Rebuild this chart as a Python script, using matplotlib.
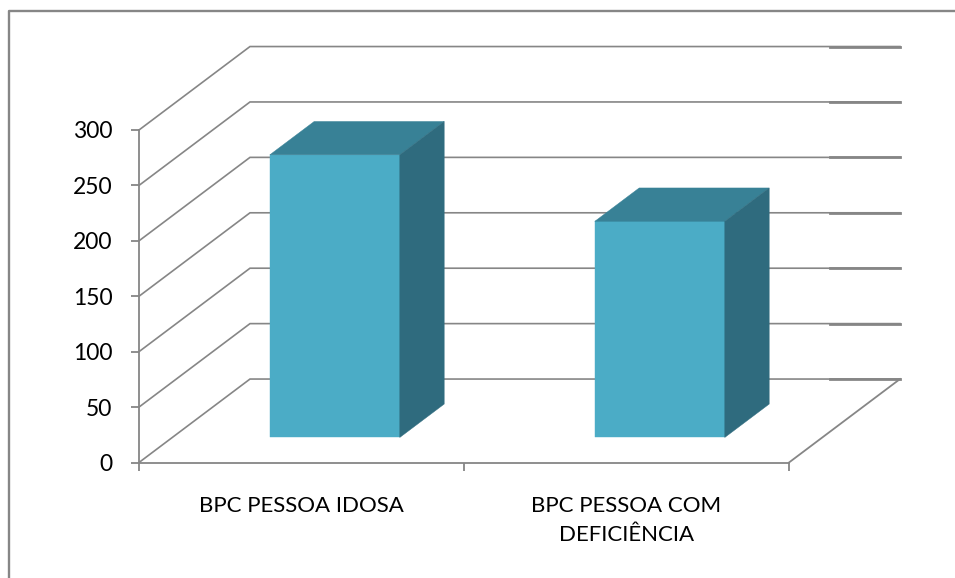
#!/usr/env/python

import matplotlib as mpl
mpl.use('Agg')
from matplotlib import pyplot as plt
from matplotlib.lines import Line2D
from matplotlib.patches import Polygon

## Chart data
categories = ['BPC PESSOA IDOSA', 'BPC PESSOA COM\nDEFICIÊNCIA']
values = [255, 195]
value_ticks = [0, 50, 100, 150, 200, 250, 300]

## Oblique depth of the floor, in data units
DEPTH_X = 0.3415
DEPTH_Y = 75.3
BAR_WIDTH = 0.4
BAR_FRONT = 0.3
BAR_BACK = 0.7

GREY = '#868686'
FRONT = '#4BACC6'
TOP = '#388196'
SIDE = '#2F6B7E'

W, H = 955, 578


def project(x, y, depth):
    return (x + depth*DEPTH_X, y + depth*DEPTH_Y)


def main():
    plt.rcParams['font.family'] = ['Lato', 'DejaVu Sans']
    fig = plt.figure(figsize=(W/100, H/100), dpi=100)
    ax = fig.add_axes([139/W, 1 - 462.5/H, 650/W, 332.5/H])
    ax.set_xlim(0, 2)
    ax.set_ylim(0, 300)
    ax.patch.set_alpha(0)

    ## Outer frame only shows on the left and the top
    fig.add_artist(Line2D([8.5/W, 8.5/W, 1], [0, 1 - 10.5/H, 1 - 10.5/H],
                          color=GREY, lw=1.7))

    for s in ['top', 'right']:
        ax.spines[s].set_visible(False)
    for s in ['left', 'bottom']:
        ax.spines[s].set_color(GREY)
        ax.spines[s].set_linewidth(1.3)

    ## Value axis, category separators and labels
    ax.set_yticks(value_ticks)
    ax.tick_params(axis='y', length=6, width=1.3, color=GREY, labelsize=16.5, pad=13)
    ax.set_xticks([0, 1, 2])
    ax.set_xticklabels([])
    ax.tick_params(axis='x', which='major', length=6, width=1.3, color=GREY)
    ax.set_xticks([0.5 + i for i in range(len(categories))], minor=True)
    ax.set_xticklabels(categories, minor=True, fontsize=16, linespacing=1.55)
    ax.tick_params(axis='x', which='minor', length=0, pad=24)

    ## Side wall and back wall gridlines
    for v in value_ticks:
        bx, by = project(0, v, 1)
        ex, ey = project(2, v, 1)
        ax.plot([0, bx, ex], [v, by, ey], color=GREY, lw=1.2,
                clip_on=False, zorder=1, solid_joinstyle='miter')
        ax.plot([1.785 + DEPTH_X, ex], [ey, ey], color=GREY, lw=2.0,
                clip_on=False, zorder=1)

    ## Right edge of the floor
    fx, fy = project(2, 0, 1)
    ax.plot([2, fx], [0, fy], color=GREY, lw=1.3, clip_on=False, zorder=1)

    ## Bars as oblique boxes
    for i, val in enumerate(values):
        x0 = i + 0.5 - BAR_WIDTH/2
        x1 = i + 0.5 + BAR_WIDTH/2
        a = project(x0, 0, BAR_FRONT)
        b = project(x1, 0, BAR_FRONT)
        c = project(x1, val, BAR_FRONT)
        d = project(x0, val, BAR_FRONT)
        e = project(x1, 0, BAR_BACK)
        f = project(x1, val, BAR_BACK)
        g = project(x0, val, BAR_BACK)
        for pts, col in [([a, b, c, d], FRONT), ([d, c, f, g], TOP), ([b, e, f, c], SIDE)]:
            ax.add_patch(Polygon(pts, closed=True, facecolor=col, edgecolor=col,
                                 lw=0.3, clip_on=False, zorder=3))

    fig.savefig('out.png', dpi=100)


if __name__ == '__main__':
    main()
